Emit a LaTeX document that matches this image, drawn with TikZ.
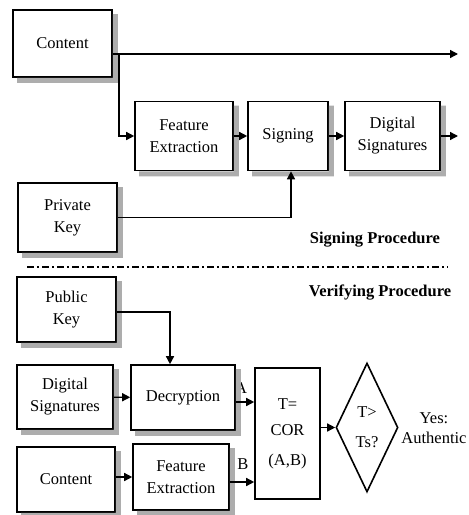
\documentclass[tikz,border=0pt]{standalone}
\usepackage{fontspec}
\setmainfont{Liberation Serif}
\usetikzlibrary{shapes.geometric,arrows.meta}
\begin{document}
\begin{tikzpicture}[x=1pt,y=-1pt,
  every node/.style={font=\fontsize{16.5}{22}\selectfont},
  box/.style={draw, line width=1.6pt, fill=white, align=center, inner sep=0pt},
  arr/.style={line width=1.4pt, -{Triangle[length=8pt,width=8pt]}},
  sdw/.style={fill=black!32, draw=none},
  ttl/.style={font=\fontsize{16.5}{22}\selectfont\bfseries}]
\useasboundingbox (0,0) rectangle (469,515);
% nodes
\node[box, minimum width=99pt, minimum height=67pt] (c1) at (62.5,43.5) {Content};
\node[box, minimum width=98pt, minimum height=69pt] (fe1) at (184,136) {Feature\\Extraction};
\node[box, minimum width=80pt, minimum height=69pt] (sg) at (288,136) {Signing};
\node[box, minimum width=95pt, minimum height=69pt] (ds1) at (392.5,136) {Digital\\Signatures};
\node[box, minimum width=99pt, minimum height=69pt] (pk) at (67.5,217.5) {Private\\Key};
\node[ttl] (sp) at (375,240) {Signing Procedure};
\node[ttl] (vp) at (380,293) {Verifying Procedure};
\node[box, minimum width=99pt, minimum height=65pt] (pub) at (66.5,309.5) {Public\\Key};
\node[box, minimum width=96pt, minimum height=64pt] (ds2) at (65,397) {Digital\\Signatures};
\node[box, minimum width=104pt, minimum height=65pt] (dec) at (183,397.5) {Decryption};
\node[box, minimum width=98pt, minimum height=65pt] (c2) at (66,479.5) {Content};
\node[box, minimum width=96pt, minimum height=66pt] (fe2) at (181,477) {Feature\\Extraction};
\node[box, minimum width=65pt, minimum height=131pt] (cor) at (287.5,433.5) {T=\\[4pt]COR\\[8pt](A,B)};
\node[diamond, draw, line width=1.6pt, fill=white, minimum width=62pt, minimum height=129pt, inner sep=0pt] (dm) at (367,427.5) {};
\node[align=center] (dmt) at (367,427.5) {T>\\[8pt]Ts?};
\node[align=center, font=\fontsize{16.5}{20}\selectfont] (yes) at (434,428) {Yes:\\Authentic};
\node (la) at (241,388) {A};
\node (lb) at (243,464) {B};
% shadows (L-shaped bands right and below each box)
\foreach \n in {c1,fe1,sg,ds1,pk,pub,ds2,dec,c2,fe2}{
  \path[sdw] ([xshift=5pt]\n.south west) -- ([xshift=5pt,yshift=-5pt]\n.south west)
    -- ([xshift=5pt,yshift=-5pt]\n.south east) -- ([xshift=5pt,yshift=-5pt]\n.north east)
    -- ([yshift=-5pt]\n.north east) -- (\n.south east) -- cycle;
}
% signing procedure connectors
\coordinate (br) at (119,54);
\coordinate (e1) at (458,54);
\coordinate (e2) at (458,136);
\draw[arr] (c1.east |- br) -- (e1);
\draw[arr] (br) -- (br |- fe1.west) -- (fe1.west);
\draw[arr] (fe1) -- (sg);
\draw[arr] (sg) -- (ds1);
\draw[arr] (ds1) -- (e2);
\draw[arr] (pk.east) -| ([xshift=3pt]sg.south);
% separator
\coordinate (s1) at (27,267);
\coordinate (s2) at (448,267);
\draw[line width=1.3pt, dash pattern=on 7pt off 3pt on 2pt off 3pt] (s1) -- (s2);
% verifying procedure connectors
\draw[arr] ([yshift=-2.5pt]pub.east) -| ([xshift=-13pt]dec.north);
\draw[arr] (ds2) -- (dec);
\coordinate (ya) at (0,402);
\coordinate (yb) at (0,482);
\draw[arr] (dec.east |- ya) -- (cor.west |- ya);
\draw[arr] (fe2.east |- yb) -- (cor.west |- yb);
\draw[arr] (c2.east |- fe2.west) -- (fe2.west);
\draw[arr] (cor.east |- dm.west) -- (dm.west);
\end{tikzpicture}
\end{document}
